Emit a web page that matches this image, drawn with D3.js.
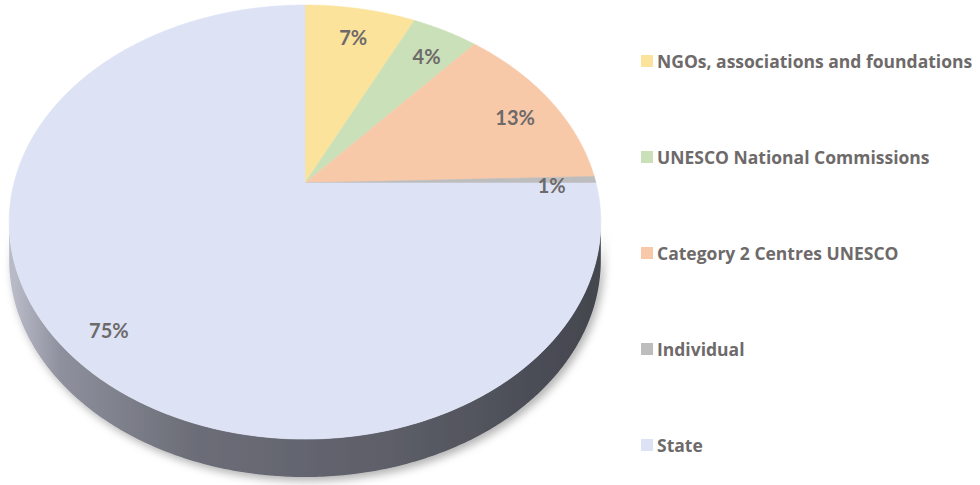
<!DOCTYPE html>
<html>
<head>
<meta charset="utf-8">
<script src="https://cdn.jsdelivr.net/npm/d3@7"></script>
<style>
  body { margin: 0; background: #ffffff; }
  svg { display: block; }
</style>
</head>
<body>
<div id="vis"></div>
<script>
// data
const categories = ["NGOs, associations and foundations", "UNESCO National Commissions",
                    "Category 2 Centres UNESCO", "Individual", "State"];
const shares = [7.2, 4.3, 13.0, 0.5, 75.0];
const colors = ["#fbe39c", "#c9e0b9", "#f8c9a9", "#bdbdbd", "#dde3f5"];

const FRAME_WIDTH = 980;
const FRAME_HEIGHT = 485;

// projected (tilted, perspective) pie geometry
const CX = 305, CY = 183;
const RX = 291, RY = 210;
const K = 0.18;        // perspective strength
const DEPTH = 38;      // thickness of the side wall
const LABEL_R = 0.85;
const LABEL_DY = 5;

const TEXT_COLOR = "#6e6a6a";

const svg = d3.select("#vis")
  .append("svg")
    .attr("width", FRAME_WIDTH)
    .attr("height", FRAME_HEIGHT);

const defs = svg.append("defs");

const sideGrad = defs.append("linearGradient")
    .attr("id", "sideGrad")
    .attr("gradientUnits", "userSpaceOnUse")
    .attr("x1", CX - RX).attr("x2", CX + RX)
    .attr("y1", 0).attr("y2", 0);
[[0, "#b8bbc7"], [0.08, "#8e919d"], [0.3, "#6c6e78"], [0.65, "#5c5e68"], [1, "#44464f"]]
  .forEach(s => sideGrad.append("stop").attr("offset", s[0]).attr("stop-color", s[1]));

const shadow = defs.append("filter")
    .attr("id", "shadow")
    .attr("x", "-10%").attr("y", "-10%")
    .attr("width", "130%").attr("height", "140%");
shadow.append("feDropShadow")
    .attr("dx", 3).attr("dy", 4)
    .attr("stdDeviation", 4)
    .attr("flood-color", "#000")
    .attr("flood-opacity", 0.3);

// project a pie angle (d3 convention: 0 at 12 o'clock, clockwise) and radius fraction
function proj(a, r, dy = 0) {
  const X = r * Math.sin(a);
  const Y = -r * Math.cos(a);
  const w = 1 - K * Y;
  return [CX + RX * X / w, CY + RY * Y / w + dy];
}

function arcPoints(a0, a1, r, dy = 0) {
  const n = Math.max(2, Math.ceil(Math.abs(a1 - a0) / 0.01));
  return d3.range(n + 1).map(i => proj(a0 + (a1 - a0) * i / n, r, dy));
}

const line = d3.line();

const pie = d3.pie().sort(null).value(d => d.share);
const data = categories.map((c, i) => ({name: c, share: shares[i], color: colors[i]}));
const arcs = pie(data);

// side wall: visible front rim between the left-most and right-most silhouette points
const aRight = Math.acos(-K);
const aLeft = 2 * Math.PI - aRight;
const sidePts = arcPoints(aRight, aLeft, 1)
  .concat(arcPoints(aLeft, aRight, 1, DEPTH));

svg.append("path")
    .attr("d", line(sidePts) + "Z")
    .attr("fill", "url(#sideGrad)")
    .attr("filter", "url(#shadow)");

// top face slices
svg.selectAll("path.slice")
  .data(arcs)
  .enter()
  .append("path")
    .attr("class", "slice")
    .attr("d", d => line([proj(0, 0)].concat(arcPoints(d.startAngle, d.endAngle, 1))) + "Z")
    .attr("fill", d => d.data.color)
    .attr("stroke", d => d.data.color)
    .attr("stroke-width", 0.6);

// data labels
svg.selectAll("text.pct")
  .data(arcs)
  .enter()
  .append("text")
    .attr("class", "pct")
    .attr("x", d => proj((d.startAngle + d.endAngle) / 2, LABEL_R)[0])
    .attr("y", d => proj((d.startAngle + d.endAngle) / 2, LABEL_R, LABEL_DY)[1])
    .attr("text-anchor", "middle")
    .attr("dominant-baseline", "central")
    .attr("font-family", "Lato, sans-serif")
    .attr("font-weight", "bold")
    .attr("font-size", "20px")
    .attr("fill", TEXT_COLOR)
    .text(d => Math.round(d.data.share) + "%");

// legend
const legendY = d3.scalePoint()
  .domain(categories)
  .range([61, 445]);

const legend = svg.selectAll("g.legend")
  .data(data)
  .enter()
  .append("g")
    .attr("class", "legend")
    .attr("transform", d => "translate(641," + legendY(d.name) + ")");

legend.append("rect")
    .attr("x", 0).attr("y", -6)
    .attr("width", 12).attr("height", 12)
    .attr("fill", d => d.color);

legend.append("text")
    .attr("x", 16)
    .attr("y", 0)
    .attr("dominant-baseline", "central")
    .attr("font-family", "'Open Sans', sans-serif")
    .attr("font-weight", "bold")
    .attr("font-size", "17.5px")
    .attr("fill", TEXT_COLOR)
    .text(d => d.name);
</script>
</body>
</html>
